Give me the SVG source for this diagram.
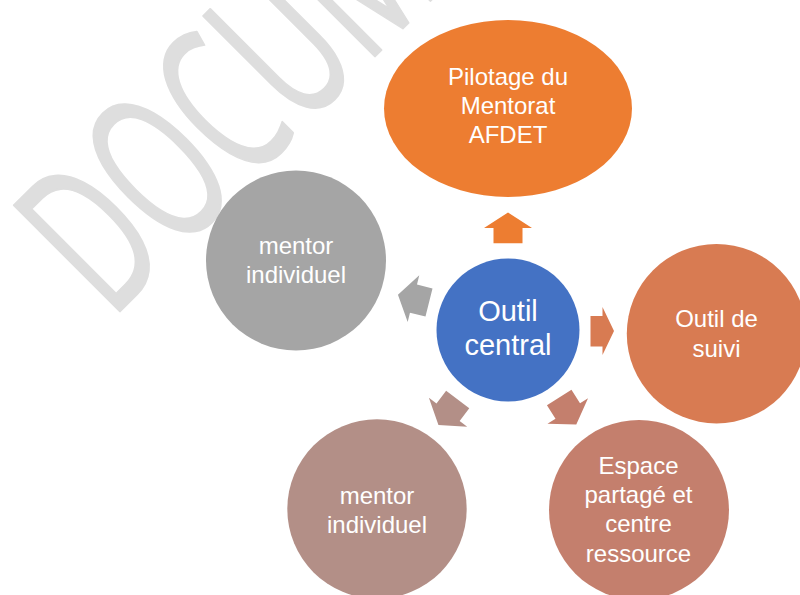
<svg xmlns="http://www.w3.org/2000/svg" width="800" height="595" viewBox="0 0 800 595">
<style>
.lbl{font-family:"Liberation Sans",Arial,sans-serif;font-size:24px;fill:#FFFFFF;text-anchor:middle}
.big{font-size:29px}
.wm{font-family:"Open Sans","Noto Sans",sans-serif;font-size:210px;fill:#DEDEDE;stroke:#DEDEDE;stroke-width:2;stroke-linejoin:round}
</style>
<defs>
<polygon id="arr" points="0,-14.5 16,-14.5 16,-24 32,0 16,24 16,14.5 0,14.5"/>
</defs>
<rect width="800" height="595" fill="#FFFFFF"/>
<text class="wm" transform="translate(111,320.3) rotate(-45) scale(0.6,1)">DOCUM</text>
<g id="connectors">
<use href="#arr" fill="#ED7D31" transform="translate(508,243.3) rotate(-90) scale(0.96,1)"/>
<polygon fill="#D87B52" points="614,331 602.5,355 602.5,346.5 590.5,346.5 590.5,316 602.5,316 602.5,307"/>
<use href="#arr" fill="#C47F6D" transform="translate(559.2,397.5) rotate(57.7)"/>
<use href="#arr" fill="#B38F87" transform="translate(457.7,399.5) rotate(127)"/>
<use href="#arr" fill="#A5A5A5" transform="translate(429,302.5) rotate(194)"/>
</g>
<g id="pilotage">
<ellipse cx="508" cy="108.5" rx="124" ry="88.5" fill="#ED7D31"/>
<text class="lbl" x="508" y="85">Pilotage du</text>
<text class="lbl" x="508" y="114">Mentorat</text>
<text class="lbl" x="508" y="143">AFDET</text>
</g>
<g id="outil-suivi">
<circle cx="716.5" cy="333.7" r="89.7" fill="#D87B52"/>
<text class="lbl" x="716.5" y="327">Outil de</text>
<text class="lbl" x="716.5" y="357">suivi</text>
</g>
<g id="espace">
<circle cx="639" cy="510" r="90" fill="#C47F6D"/>
<text class="lbl" x="638.5" y="473.5">Espace</text>
<text class="lbl" x="638.5" y="503">partagé et</text>
<text class="lbl" x="638.5" y="532">centre</text>
<text class="lbl" x="638.5" y="561.5">ressource</text>
</g>
<g id="mentor-bas">
<circle cx="377" cy="509" r="89.7" fill="#B38F87"/>
<text class="lbl" x="377" y="504">mentor</text>
<text class="lbl" x="377" y="533">individuel</text>
</g>
<g id="mentor-gauche">
<circle cx="296" cy="260.5" r="90" fill="#A5A5A5"/>
<text class="lbl" x="296" y="254">mentor</text>
<text class="lbl" x="296" y="283">individuel</text>
</g>
<g id="outil-central">
<circle cx="508" cy="330" r="71.5" fill="#4472C4"/>
<text class="lbl big" x="508" y="321">Outil</text>
<text class="lbl big" x="508" y="355">central</text>
</g>
</svg>
